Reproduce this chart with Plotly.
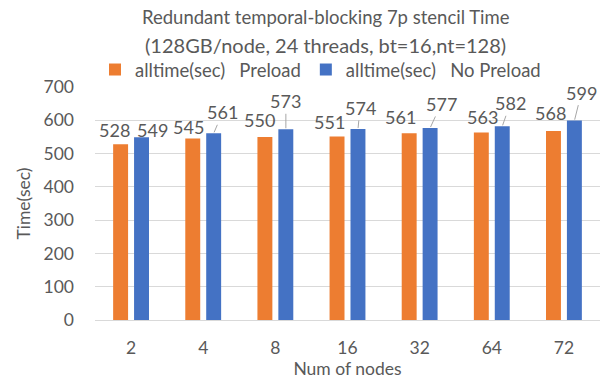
import plotly.graph_objects as go

# Chart data
nodes = ["2", "4", "8", "16", "32", "64", "72"]
preload = [528, 545, 550, 551, 561, 563, 568]
no_preload = [549, 561, 573, 574, 577, 582, 599]
series_names = ["alltime(sec)\u00a0\u00a0\u00a0Preload", "alltime(sec)\u00a0\u00a0\u00a0No Preload"]

# Label placement (pixel offsets of each value label from its bar top)
preload_label_dx = [-6, -4, -5, -8, -9, 1, -3]
preload_label_dy = [-14, -12, -17, -15, -16, -16, -18]
no_preload_label_dx = [11, 9, 0, 2, 11, 8, 7]
no_preload_label_dy = [-7, -21, -28, -21, -24, -23, -28]
no_preload_leader = [False, True, True, True, True, True, True]

ORANGE = "#ED7D31"
BLUE = "#4472C4"
TEXT = "#595959"
GRID = "#D9D9D9"
FONT = "Lato"
LABEL_SIZE = 18

fig = go.Figure()
fig.add_trace(go.Bar(x=nodes, y=preload, name=series_names[0],
                     marker=dict(color=ORANGE, line=dict(width=0))))
fig.add_trace(go.Bar(x=nodes, y=no_preload, name=series_names[1],
                     marker=dict(color=BLUE, line=dict(width=0))))

BAR_SHIFT = 10.5
annotations = []
for i, cat in enumerate(nodes):
    # category axes place annotations by category index
    annotations.append(dict(
        x=i, y=preload[i], xref="x", yref="y", xshift=-BAR_SHIFT,
        text=str(preload[i]), showarrow=True, arrowcolor="rgba(0,0,0,0)",
        ax=preload_label_dx[i], ay=preload_label_dy[i],
        font=dict(family=FONT, size=LABEL_SIZE, color=TEXT)))
    annotations.append(dict(
        x=i, y=no_preload[i], xref="x", yref="y", xshift=BAR_SHIFT,
        text=str(no_preload[i]), showarrow=True,
        arrowcolor="#A6A6A6" if no_preload_leader[i] else "rgba(0,0,0,0)",
        arrowwidth=1, arrowhead=0, standoff=1,
        ax=no_preload_label_dx[i], ay=no_preload_label_dy[i],
        font=dict(family=FONT, size=LABEL_SIZE, color=TEXT)))

# Two-line chart title
annotations.append(dict(
    x=0.457, y=1.300, xref="paper", yref="paper", xanchor="center", yanchor="middle",
    text="Redundant temporal-blocking 7p stencil Time", showarrow=False,
    font=dict(family=FONT, size=18.5, color=TEXT)))
annotations.append(dict(
    x=0.457, y=1.180, xref="paper", yref="paper", xanchor="center", yanchor="middle",
    text="(128GB/node, 24 threads, bt=16,nt=128)", showarrow=False,
    font=dict(family=FONT, size=20, color=TEXT)))

fig.update_layout(
    width=607, height=379,
    margin=dict(l=95, r=7, t=87, b=59),
    paper_bgcolor="white", plot_bgcolor="white",
    font=dict(family=FONT, size=17, color=TEXT),
    barmode="group", bargap=0.42, bargroupgap=0.286,
    showlegend=True,
    legend=dict(orientation="h", x=0.0, y=1.073, xanchor="left", yanchor="middle",
                font=dict(family=FONT, size=18.5, color=TEXT),
                itemwidth=30, tracegroupgap=0, bgcolor="rgba(0,0,0,0)"),
    annotations=annotations,
)
fig.update_xaxes(type="category", automargin=False, showgrid=False, showline=True,
                 linecolor=GRID, linewidth=1, ticks="", ticklabelstandoff=12,
                 tickfont=dict(family=FONT, size=17.5, color=TEXT),
                 title=dict(text="Num of nodes", standoff=4,
                            font=dict(family=FONT, size=17.5, color=TEXT)))
fig.update_yaxes(range=[0, 700], dtick=100, automargin=False, showgrid=True,
                 gridcolor=GRID, gridwidth=1, zeroline=False, showline=False,
                 ticks="", ticklabelstandoff=20,
                 tickfont=dict(family=FONT, size=17.5, color=TEXT),
                 title=dict(text="Time(sec)", standoff=8,
                            font=dict(family=FONT, size=17.5, color=TEXT)))

fig.write_html("out.html")
